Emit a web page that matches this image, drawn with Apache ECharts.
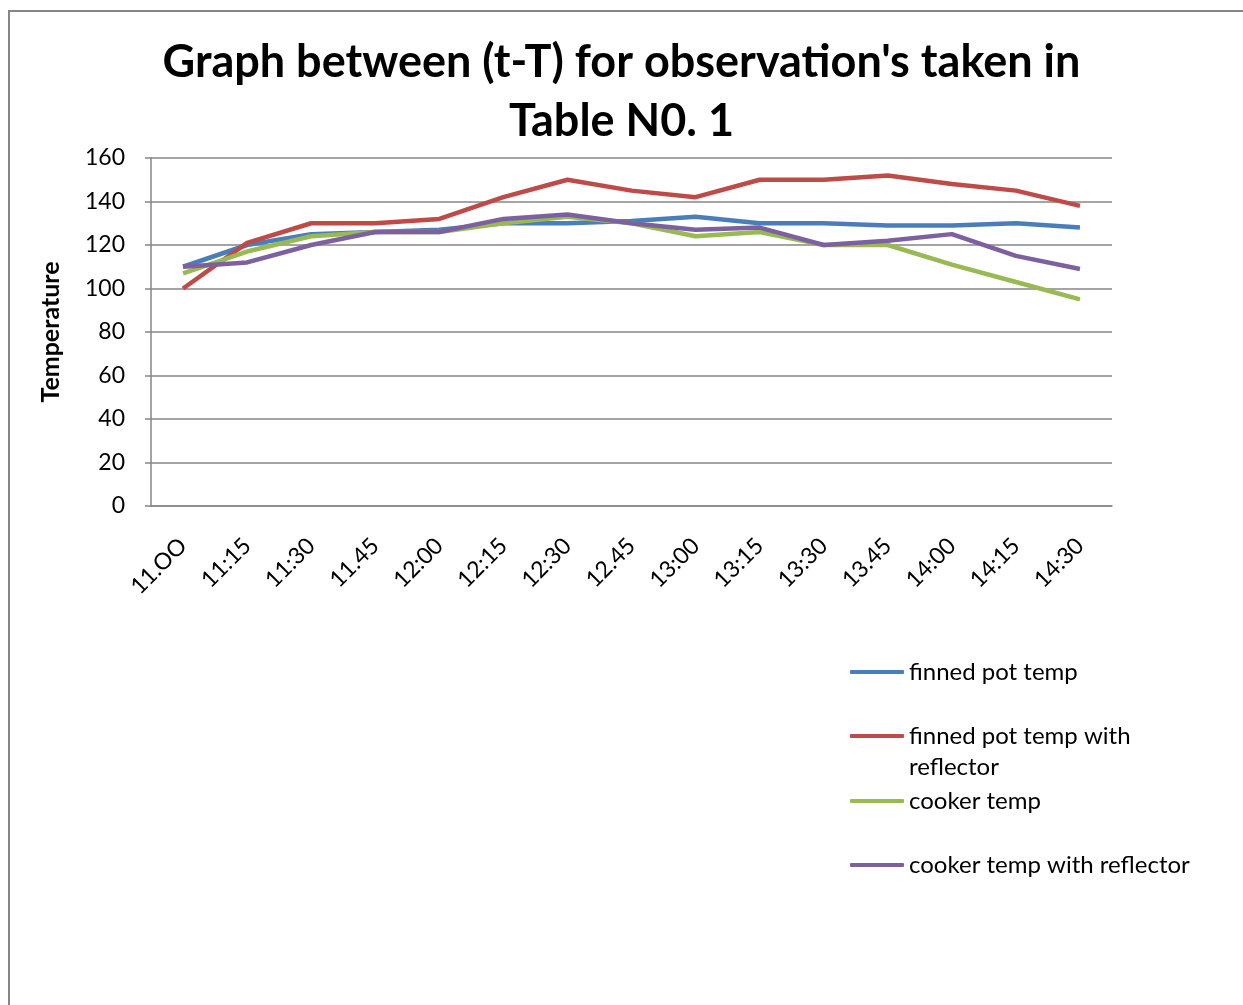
<!DOCTYPE html>
<html>
<head>
<meta charset="utf-8">
<script src="https://cdn.jsdelivr.net/npm/echarts@6/dist/echarts.min.js"></script>
<style>
html,body{margin:0;padding:0;background:#fff;}
#chart{width:1243px;height:1005px;}
</style>
</head>
<body>
<div id="chart"></div>
<script>
const categories = ['11.OO','11:15','11:30','11.45','12:00','12:15','12:30','12.45','13:00','13:15','13:30','13.45','14:00','14:15','14:30'];
const finnedPot = [110,120,125,126,127,130,130,131,133,130,130,129,129,130,128];
const finnedPotReflector = [100,121,130,130,132,142,150,145,142,150,150,152,148,145,138];
const cooker = [107,117,124,126,126,130,133,130,124,126,120,120,111,103,95];
const cookerReflector = [110,112,120,126,126,132,134,130,127,128,120,122,125,115,109];
const yTicks = [0,20,40,60,80,100,120,140,160];

const names = ['finned pot temp','finned pot temp with reflector','cooker temp','cooker temp with reflector'];
const colors = ['#4A7EBB','#BE4B48','#98B954','#7D60A0'];
const values = [finnedPot, finnedPotReflector, cooker, cookerReflector];
const FONT = 'Lato, "Open Sans", sans-serif';

const chart = echarts.init(document.getElementById('chart'));
const legendTops = [672, 736, 801, 865];
const legendBase = {
  orient: 'vertical', left: 850, itemWidth: 54, itemHeight: 4, itemGap: 0, padding: 0,
  icon: 'roundRect',
  selectedMode: false,
  textStyle: {fontFamily: FONT, fontSize: 24, color: '#000'}
};
const legends = names.map((n, i) => Object.assign({}, legendBase, {
  top: legendTops[i] - 12,
  data: [{name: n, icon: 'roundRect'}],
  formatter: i === 1 ? 'finned pot temp with' : '{name}'
}));

chart.setOption({
  animation: false,
  backgroundColor: '#fff',
  title: {
    text: 'Graph between (t-T) for observation\'s taken in\nTable N0. 1',
    left: 'center', top: 28,
    textStyle: {fontFamily: FONT, fontSize: 45, fontWeight: 'bold', color: '#000', lineHeight: 59}
  },
  legend: legends,
  graphic: [
    {type: 'rect', shape: {x: 9, y: 11, width: 1300, height: 1100}, style: {fill: 'none', stroke: '#868686', lineWidth: 2}, silent: true},
    {type: 'text', left: 909, top: 755, style: {text: 'reflector', fontFamily: FONT, fontSize: 24, fill: '#000'}}
  ],
  grid: {left: 151, top: 158, right: 131, bottom: 499, containLabel: false},
  xAxis: {
    type: 'category', data: categories, boundaryGap: true,
    axisLine: {lineStyle: {color: '#868686', width: 1.5}},
    axisTick: {show: false},
    axisLabel: {rotate: 45, fontFamily: FONT, fontSize: 23, color: '#000', margin: 36, interval: 0}
  },
  yAxis: {
    type: 'value', min: 0, max: 160, interval: 20,
    name: 'Temperature', nameLocation: 'middle', nameGap: 88, nameRotate: 90,
    nameTextStyle: {fontFamily: FONT, fontSize: 25, fontWeight: 'bold', color: '#000'},
    axisLine: {show: true, lineStyle: {color: '#868686', width: 1.5}},
    axisTick: {show: true, length: 6, lineStyle: {color: '#868686', width: 1.5}},
    splitLine: {lineStyle: {color: '#868686', width: 1.5}},
    axisLabel: {fontFamily: FONT, fontSize: 23, color: '#000', margin: 26,
      formatter: v => yTicks.includes(v) ? String(v) : ''}
  },
  series: names.map((n, i) => ({
    name: n, type: 'line', data: values[i], symbol: 'none',
    lineStyle: {color: colors[i], width: 4.5}, itemStyle: {color: colors[i]}
  }))
});
</script>
</body>
</html>
